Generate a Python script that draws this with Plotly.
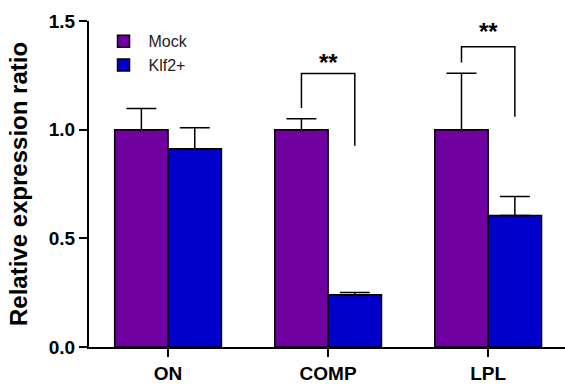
import plotly.graph_objects as go

categories = ["ON", "COMP", "LPL"]
mock_values = [1.0, 1.0, 1.0]
mock_err = [0.097, 0.05, 0.26]
klf2_values = [0.912, 0.24, 0.605]
klf2_err = [0.097, 0.011, 0.088]
y_ticks = [0.0, 0.5, 1.0, 1.5]
y_tick_labels = ["0.0", "0.5", "1.0", "1.5"]
sig_labels = ["**", "**"]
sig_categories = [1, 2]  # index of categories with significance

# bracket geometry (layout, not data)
bracket_top = [1.258, 1.382]
bracket_left_bottom = [1.10, 1.309]
bracket_right_bottom = [0.926, 1.06]
star_y = [1.31, 1.45]
half_offset = 0.1667

PURPLE = "#7000A0"
BLUE = "#0000CC"
FONT = "Liberation Sans, Arial, sans-serif"

fig = go.Figure()
fig.add_trace(go.Bar(
    x=categories, y=mock_values, name="Mock",
    marker=dict(color=PURPLE, line=dict(color="black", width=1.5)),
    error_y=dict(type="data", array=mock_err, arrayminus=[0]*3, symmetric=False,
                 color="black", thickness=1.5, width=15),
))
fig.add_trace(go.Bar(
    x=categories, y=klf2_values, name="Klf2+",
    marker=dict(color=BLUE, line=dict(color="black", width=1.5)),
    error_y=dict(type="data", array=klf2_err, arrayminus=[0]*3, symmetric=False,
                 color="black", thickness=1.5, width=15),
))

shapes = []
annotations = []
for i, ci in enumerate(sig_categories):
    xl = ci - half_offset
    xr = ci + half_offset
    path = f"M {xl},{bracket_left_bottom[i]} L {xl},{bracket_top[i]} L {xr},{bracket_top[i]} L {xr},{bracket_right_bottom[i]}"
    shapes.append(dict(type="path", path=path, xref="x", yref="y",
                       line=dict(color="black", width=1.5)))
    annotations.append(dict(x=ci, y=star_y[i], xref="x", yref="y", text=sig_labels[i],
                            showarrow=False,
                            font=dict(family=FONT, size=24, color="black", weight="bold"),
                            yanchor="middle"))

fig.update_layout(
    width=565, height=384,
    margin=dict(l=89, r=0, t=21, b=37, autoexpand=False),
    paper_bgcolor="white", plot_bgcolor="white",
    barmode="group", bargap=0.333, bargroupgap=0,
    showlegend=True,
    legend=dict(x=0.02, y=0.99, xanchor="left", yanchor="top", itemwidth=40,
                font=dict(family=FONT, size=16, color="#222"),
                bgcolor="rgba(0,0,0,0)", tracegroupgap=0),
    shapes=shapes, annotations=annotations,
    font=dict(family=FONT),
)
fig.update_xaxes(
    range=[-0.494, 2.48], showline=True, linecolor="black", linewidth=2,
    ticks="outside", ticklen=8, tickwidth=2, tickcolor="black",
    tickfont=dict(family=FONT, size=19, color="black", weight="bold"),
    showgrid=False, zeroline=False,
)
fig.update_yaxes(
    range=[0, 1.5], tickvals=y_ticks, ticktext=y_tick_labels,
    showline=True, linecolor="black", linewidth=2,
    ticks="outside", ticklen=8, tickwidth=2, tickcolor="black",
    tickfont=dict(family=FONT, size=19, color="black", weight="bold"),
    showgrid=False, zeroline=False,
    title=dict(text="Relative expression ratio", standoff=14,
               font=dict(family=FONT, size=24, color="black", weight="bold")),
)

fig.write_html("out.html", config={"displayModeBar": False},
               post_script="document.body.style.margin='0';document.body.style.overflow='hidden';")
